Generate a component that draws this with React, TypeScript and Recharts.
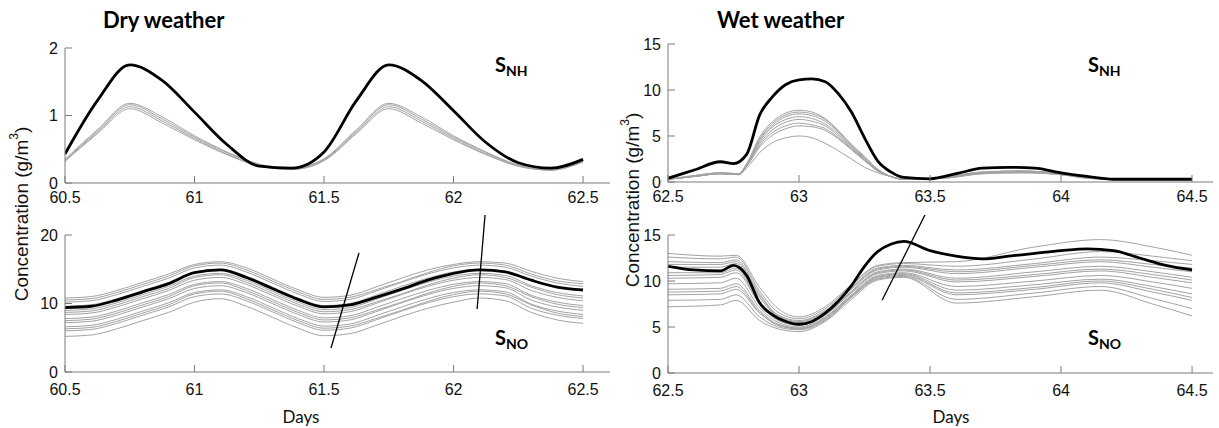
import { LineChart, Line, XAxis, YAxis, ReferenceLine } from 'recharts';

// ---- Dry weather, S_NH ----
const dryNhDays = [60.5, 60.625, 60.75, 60.875, 61, 61.125, 61.25, 61.375, 61.5, 61.625, 61.75, 61.875, 62, 62.125, 62.25, 62.375, 62.5];
const dryNhBlack = [0.43, 1.22, 1.75, 1.52, 1.05, 0.57, 0.25, 0.22, 0.46, 1.22, 1.75, 1.52, 1.07, 0.6, 0.3, 0.22, 0.35];
const dryNhGray = [
  [0.35, 0.79, 1.18, 0.98, 0.7, 0.46, 0.28, 0.22, 0.36, 0.79, 1.18, 0.98, 0.7, 0.46, 0.27, 0.21, 0.34],
  [0.34, 0.77, 1.16, 0.95, 0.68, 0.45, 0.27, 0.21, 0.35, 0.77, 1.16, 0.95, 0.68, 0.45, 0.26, 0.2, 0.33],
  [0.33, 0.75, 1.13, 0.92, 0.66, 0.43, 0.26, 0.2, 0.34, 0.75, 1.13, 0.92, 0.66, 0.43, 0.25, 0.19, 0.32],
  [0.32, 0.73, 1.1, 0.89, 0.64, 0.42, 0.25, 0.2, 0.33, 0.73, 1.1, 0.89, 0.64, 0.42, 0.25, 0.19, 0.31],
];

// ---- Dry weather, S_NO ----
const dryNoDays = [60.5, 60.6, 60.7, 60.8, 60.9, 61, 61.1, 61.2, 61.3, 61.4, 61.5, 61.6, 61.7, 61.8, 61.9, 62, 62.1, 62.2, 62.3, 62.4, 62.5];
const dryNoBlack = [9.4, 9.6, 10.5, 11.7, 12.9, 14.5, 14.9, 13.8, 12.2, 10.6, 9.5, 9.8, 10.9, 12.1, 13.4, 14.4, 14.9, 14.6, 13.4, 12.4, 12.0];
const dryNoGray = [
  [10.8, 11.0, 11.9, 13.1, 14.3, 15.7, 16.1, 15.2, 13.6, 12.0, 10.9, 11.2, 12.4, 13.7, 14.9, 15.7, 16.1, 15.9, 14.7, 13.7, 13.2],
  [10.5, 10.7, 11.6, 12.8, 14.0, 15.5, 15.9, 14.9, 13.3, 11.7, 10.6, 10.9, 12.0, 13.2, 14.5, 15.5, 15.9, 15.6, 14.3, 13.3, 12.9],
  [10.2, 10.4, 11.3, 12.5, 13.7, 15.2, 15.6, 14.6, 13.0, 11.4, 10.3, 10.6, 11.8, 13.1, 14.3, 15.2, 15.6, 15.3, 14.0, 13.0, 12.5],
  [9.6, 9.8, 10.7, 11.9, 13.1, 14.6, 15.0, 14.0, 12.4, 10.8, 9.7, 10.0, 11.2, 12.5, 13.7, 14.6, 15.0, 14.7, 13.3, 12.3, 11.8],
  [9.0, 9.2, 10.1, 11.3, 12.5, 14.0, 14.4, 13.4, 11.8, 10.2, 9.1, 9.4, 10.6, 11.9, 13.1, 14.0, 14.4, 14.1, 12.6, 11.6, 11.1],
  [8.7, 8.9, 9.8, 11.0, 12.2, 13.8, 14.2, 13.1, 11.5, 9.9, 8.8, 9.1, 10.2, 11.4, 12.7, 13.7, 14.2, 13.8, 12.4, 11.3, 10.8],
  [8.4, 8.6, 9.5, 10.7, 11.9, 13.4, 13.8, 12.8, 11.2, 9.6, 8.5, 8.8, 10.0, 11.3, 12.5, 13.4, 13.8, 13.5, 11.9, 10.9, 10.4],
  [7.8, 8.0, 8.9, 10.1, 11.3, 12.8, 13.2, 12.2, 10.6, 9.0, 7.9, 8.2, 9.4, 10.7, 11.9, 12.8, 13.2, 12.9, 11.2, 10.2, 9.7],
  [7.5, 7.7, 8.6, 9.8, 11.0, 12.6, 13.0, 11.9, 10.3, 8.7, 7.6, 7.9, 9.0, 10.2, 11.5, 12.5, 13.0, 12.6, 11.0, 9.9, 9.4],
  [7.2, 7.4, 8.3, 9.5, 10.7, 12.2, 12.6, 11.6, 10.0, 8.4, 7.3, 7.6, 8.8, 10.1, 11.3, 12.2, 12.6, 12.3, 10.5, 9.5, 9.0],
  [6.6, 6.8, 7.7, 8.9, 10.1, 11.6, 12.0, 11.0, 9.4, 7.8, 6.7, 7.0, 8.2, 9.5, 10.7, 11.6, 12.0, 11.7, 9.9, 8.9, 8.4],
  [6.3, 6.5, 7.4, 8.6, 9.8, 11.4, 11.8, 10.7, 9.1, 7.5, 6.4, 6.7, 7.8, 9.0, 10.3, 11.3, 11.8, 11.4, 9.8, 8.6, 8.1],
  [6.0, 6.2, 7.1, 8.3, 9.5, 11.0, 11.4, 10.4, 8.8, 7.2, 6.1, 6.4, 7.6, 8.9, 10.1, 11.0, 11.4, 11.1, 9.3, 8.3, 7.8],
  [5.2, 5.4, 6.3, 7.5, 8.7, 10.2, 10.7, 9.6, 8.0, 6.4, 5.3, 5.6, 6.8, 8.1, 9.3, 10.2, 10.8, 10.4, 8.7, 7.6, 7.1],
];

// ---- Wet weather, black curves ----
const wetDays = [62.5, 62.6, 62.7, 62.75, 62.8, 62.85, 62.9, 62.95, 63, 63.05, 63.1, 63.15, 63.2, 63.25, 63.3, 63.35, 63.4, 63.5, 63.6, 63.7, 63.8, 63.9, 64, 64.1, 64.2, 64.3, 64.4, 64.5];
const wetNhBlack = [0.4, 1.3, 2.2, 2.0, 3.0, 7.3, 9.3, 10.6, 11.1, 11.2, 10.9, 9.6, 7.6, 4.8, 2.3, 1.1, 0.5, 0.35, 0.9, 1.5, 1.6, 1.5, 1.0, 0.6, 0.3, 0.3, 0.3, 0.3];
const wetNoBlack = [11.6, 11.2, 11.1, 11.7, 10.6, 7.6, 6.3, 5.6, 5.3, 5.6, 6.5, 7.8, 9.5, 11.6, 13.2, 14.0, 14.3, 13.3, 12.7, 12.4, 12.7, 13.0, 13.3, 13.5, 13.3, 12.5, 11.7, 11.2];

// ---- Wet weather, S_NH gray ----
const wetNhGrayDays = [62.5, 62.6, 62.7, 62.77, 62.8, 62.85, 62.9, 62.95, 63, 63.05, 63.1, 63.15, 63.2, 63.25, 63.3, 63.35, 63.4, 63.55, 63.7, 63.85, 64, 64.1, 64.2, 64.5];
const wetNhGray = [
  [0.3, 0.7, 1.0, 0.9, 2.0, 4.9, 6.6, 7.5, 7.8, 7.6, 6.9, 5.6, 4.1, 2.8, 1.4, 0.6, 0.3, 0.5, 1.1, 1.2, 0.9, 0.5, 0.3, 0.3],
  [0.3, 0.7, 1.0, 0.9, 1.9, 4.7, 6.4, 7.3, 7.6, 7.4, 6.8, 5.5, 4.0, 2.7, 1.4, 0.6, 0.3, 0.5, 1.1, 1.2, 0.9, 0.5, 0.3, 0.3],
  [0.3, 0.6, 1.0, 0.9, 1.9, 4.6, 6.2, 7.1, 7.4, 7.2, 6.6, 5.4, 3.9, 2.6, 1.3, 0.6, 0.3, 0.5, 1.0, 1.2, 0.9, 0.5, 0.3, 0.3],
  [0.3, 0.6, 0.9, 0.9, 1.8, 4.4, 6.0, 6.8, 7.1, 6.9, 6.3, 5.2, 3.8, 2.5, 1.3, 0.6, 0.3, 0.5, 1.0, 1.1, 0.9, 0.5, 0.3, 0.3],
  [0.3, 0.6, 0.9, 0.8, 1.8, 4.2, 5.7, 6.5, 6.8, 6.6, 6.1, 5.0, 3.7, 2.4, 1.2, 0.6, 0.3, 0.5, 1.0, 1.1, 0.8, 0.5, 0.3, 0.3],
  [0.3, 0.6, 0.9, 0.8, 1.7, 4.0, 5.4, 6.1, 6.4, 6.2, 5.8, 4.8, 3.6, 2.4, 1.2, 0.6, 0.3, 0.4, 1.0, 1.1, 0.8, 0.5, 0.3, 0.3],
  [0.3, 0.6, 0.9, 0.8, 1.7, 3.8, 5.1, 5.8, 6.1, 6.0, 5.6, 4.7, 3.5, 2.3, 1.2, 0.6, 0.3, 0.4, 0.9, 1.0, 0.8, 0.4, 0.3, 0.3],
  [0.3, 0.6, 0.9, 0.8, 1.5, 3.2, 4.3, 4.8, 5.0, 4.8, 4.2, 3.4, 2.5, 1.6, 1.0, 0.6, 0.3, 0.4, 0.9, 1.0, 0.8, 0.4, 0.3, 0.3],
];

// ---- Wet weather, S_NO gray ----
const wetNoGrayDays = [62.5, 62.7, 62.76, 62.85, 62.92, 63, 63.1, 63.2, 63.3, 63.4, 63.6, 63.9, 64.15, 64.35, 64.5];
const wetNoGray = [
  [13.0, 12.7, 12.8, 9.3, 7.0, 6.1, 7.2, 9.6, 11.7, 12.0, 12.1, 13.7, 14.5, 13.7, 12.8],
  [12.6, 12.4, 12.6, 8.9, 6.6, 5.9, 7.0, 9.5, 11.6, 11.9, 11.6, 12.4, 13.2, 12.7, 12.2],
  [12.1, 12.0, 12.3, 8.6, 6.3, 5.7, 6.8, 9.3, 11.4, 11.7, 11.2, 11.9, 12.6, 12.2, 11.8],
  [11.8, 11.8, 12.1, 8.4, 6.2, 5.6, 6.7, 9.2, 11.3, 11.6, 11.0, 11.7, 12.3, 11.8, 11.4],
  [11.5, 11.5, 11.9, 8.2, 6.1, 5.5, 6.6, 9.1, 11.2, 11.5, 10.8, 11.5, 12.1, 11.5, 11.0],
  [10.9, 10.9, 11.4, 7.8, 5.9, 5.3, 6.4, 8.9, 11.0, 11.3, 10.3, 11.0, 11.6, 11.0, 10.4],
  [10.6, 10.7, 11.2, 7.6, 5.8, 5.2, 6.3, 8.8, 10.9, 11.2, 10.1, 10.7, 11.3, 10.7, 10.1],
  [10.3, 10.4, 10.9, 7.5, 5.7, 5.2, 6.3, 8.7, 10.8, 11.1, 9.9, 10.5, 11.1, 10.4, 9.8],
  [9.7, 9.8, 10.3, 7.1, 5.5, 5.0, 6.1, 8.5, 10.6, 10.9, 9.4, 10.0, 10.6, 9.9, 9.2],
  [9.1, 9.2, 9.7, 6.8, 5.3, 4.9, 6.0, 8.4, 10.5, 10.8, 9.0, 9.6, 10.2, 9.4, 8.6],
  [8.8, 8.9, 9.4, 6.6, 5.2, 4.8, 5.9, 8.3, 10.4, 10.7, 8.7, 9.3, 10.0, 9.1, 8.2],
  [8.5, 8.6, 9.1, 6.5, 5.2, 4.8, 5.8, 8.3, 10.3, 10.6, 8.5, 9.1, 9.8, 8.8, 7.9],
  [7.9, 8.0, 8.5, 6.1, 5.0, 4.7, 5.7, 8.2, 10.2, 10.5, 8.0, 8.7, 9.4, 8.1, 7.0],
  [7.2, 7.4, 7.9, 5.7, 4.8, 4.5, 5.6, 8.0, 10.1, 10.4, 7.6, 8.3, 9.0, 7.5, 6.2],
];

// ---- axis ticks ----
const dryTicks = [60.5, 61, 61.5, 62, 62.5];
const wetTicks = [62.5, 63, 63.5, 64, 64.5];
const dryNhYTicks = [0, 1, 2];
const dryNoYTicks = [0, 10, 20];
const wetYTicks = [0, 5, 10, 15];

// slanted annotation strokes [x1, y1, x2, y2]
const dryNoMarks = [
  [61.527, 3.5, 61.635, 17.4],
  [62.091, 9.2, 62.122, 23.1],
];
const wetNoMarks = [[63.317, 7.9, 63.481, 17.2]];

const pts = (days: number[], vals: number[]) => days.map((d, i) => ({ day: d, v: vals[i] }));

const AXIS = '#7a7a7a';
const GRAY = '#a3a3a3';
const tickFont = { fill: '#111', fontSize: 16, fontFamily: 'Liberation Sans, Arial, sans-serif' };

interface PanelProps {
  left: number;
  top: number;
  width: number;
  height: number;
  margin: { top: number; right: number; bottom: number; left: number };
  yWidth: number;
  xDomain: [number, number];
  xTicks: number[];
  xTickMargin: number;
  yDomain: [number, number];
  yTicks: number[];
  days: number[];
  black: number[];
  grayDays: number[];
  gray: number[][];
  marks?: number[][];
}

function Panel(p: PanelProps) {
  return (
    <div style={{ position: 'absolute', left: p.left, top: p.top }}>
      <LineChart width={p.width} height={p.height} margin={p.margin}>
        <XAxis
          dataKey="day"
          type="number"
          domain={p.xDomain}
          ticks={p.xTicks}
          interval={0}
          allowDataOverflow
          height={30}
          tickSize={-7}
          tickMargin={p.xTickMargin}
          stroke={AXIS}
          tick={tickFont}
        />
        <YAxis
          type="number"
          domain={p.yDomain}
          ticks={p.yTicks}
          interval={0}
          allowDataOverflow
          width={p.yWidth}
          tickSize={-7}
          tickMargin={14}
          stroke={AXIS}
          tick={tickFont}
        />
        {p.gray.map((g, i) => (
          <Line
            key={'g' + i}
            data={pts(p.grayDays, g)}
            dataKey="v"
            type="monotone"
            stroke={GRAY}
            strokeWidth={1}
            dot={false}
            activeDot={false}
            isAnimationActive={false}
          />
        ))}
        <Line
          data={pts(p.days, p.black)}
          dataKey="v"
          type="monotone"
          stroke="#000"
          strokeWidth={2.8}
          dot={false}
          activeDot={false}
          isAnimationActive={false}
        />
        {(p.marks || []).map((m, i) => (
          <ReferenceLine
            key={'m' + i}
            segment={[{ x: m[0], y: m[1] }, { x: m[2], y: m[3] }]}
            stroke="#000"
            strokeWidth={1.3}
            ifOverflow="visible"
          />
        ))}
      </LineChart>
    </div>
  );
}

const boldFont = 'Lato, "Open Sans", sans-serif';

function Species({ x, y, sub }: { x: number; y: number; sub: string }) {
  return (
    <text x={x} y={y} fontFamily={boldFont} fontWeight={700} fontSize={20} fill="#000">
      S
      <tspan fontSize={14} dy={4}>
        {sub}
      </tspan>
    </text>
  );
}

function YLabel({ x, y }: { x: number; y: number }) {
  return (
    <text
      x={x}
      y={y}
      transform={`rotate(-90 ${x} ${y})`}
      textAnchor="middle"
      dominantBaseline="central"
      fontFamily="Liberation Sans, Arial, sans-serif"
      fontSize={19}
      fill="#111"
    >
      Concentration (g/m
      <tspan fontSize={12} dy={-7}>
        3
      </tspan>
      <tspan dy={7}>)</tspan>
    </text>
  );
}

export default function App() {
  return (
    <div style={{ position: 'absolute', left: 0, top: 0, width: 1219, height: 428, background: '#fff' }}>
      <Panel
        left={0}
        top={0}
        width={620}
        height={215}
        margin={{ top: 48, right: 10, bottom: 2, left: 0 }}
        yWidth={65}
        xDomain={[60.5, 62.604]}
        xTicks={dryTicks}
        xTickMargin={16}
        yDomain={[0, 2]}
        yTicks={dryNhYTicks}
        days={dryNhDays}
        black={dryNhBlack}
        grayDays={dryNhDays}
        gray={dryNhGray}
      />
      <Panel
        left={0}
        top={215}
        width={620}
        height={200}
        margin={{ top: 20, right: 10, bottom: 13, left: 0 }}
        yWidth={65}
        xDomain={[60.5, 62.604]}
        xTicks={dryTicks}
        xTickMargin={19}
        yDomain={[0, 20]}
        yTicks={dryNoYTicks}
        days={dryNoDays}
        black={dryNoBlack}
        grayDays={dryNoDays}
        gray={dryNoGray}
        marks={dryNoMarks}
      />
      <Panel
        left={600}
        top={0}
        width={619}
        height={215}
        margin={{ top: 44, right: 6, bottom: 3, left: 0 }}
        yWidth={68}
        xDomain={[62.5, 64.58]}
        xTicks={wetTicks}
        xTickMargin={16}
        yDomain={[0, 15]}
        yTicks={wetYTicks}
        days={wetDays}
        black={wetNhBlack}
        grayDays={wetNhGrayDays}
        gray={wetNhGray}
      />
      <Panel
        left={600}
        top={215}
        width={619}
        height={200}
        margin={{ top: 20, right: 6, bottom: 12, left: 0 }}
        yWidth={68}
        xDomain={[62.5, 64.58]}
        xTicks={wetTicks}
        xTickMargin={19}
        yDomain={[0, 15]}
        yTicks={wetYTicks}
        days={wetDays}
        black={wetNoBlack}
        grayDays={wetNoGrayDays}
        gray={wetNoGray}
        marks={wetNoMarks}
      />
      <svg
        width={1219}
        height={428}
        style={{ position: 'absolute', left: 0, top: 0, pointerEvents: 'none' }}
      >
        <text x={103} y={28} fontFamily={boldFont} fontWeight={700} fontSize={22} fill="#000">
          Dry weather
        </text>
        <text x={717} y={28} fontFamily={boldFont} fontWeight={700} fontSize={22} fill="#000">
          Wet weather
        </text>
        <Species x={495} y={72} sub="NH" />
        <Species x={1088} y={72} sub="NH" />
        <Species x={495} y={345} sub="NO" />
        <Species x={1088} y={345} sub="NO" />
        <YLabel x={21} y={214} />
        <YLabel x={632} y={200} />
        <text x={301} y={423} textAnchor="middle" fontFamily={boldFont} fontSize={17} fill="#111">
          Days
        </text>
        <text x={951} y={423} textAnchor="middle" fontFamily={boldFont} fontSize={17} fill="#111">
          Days
        </text>
      </svg>
    </div>
  );
}
